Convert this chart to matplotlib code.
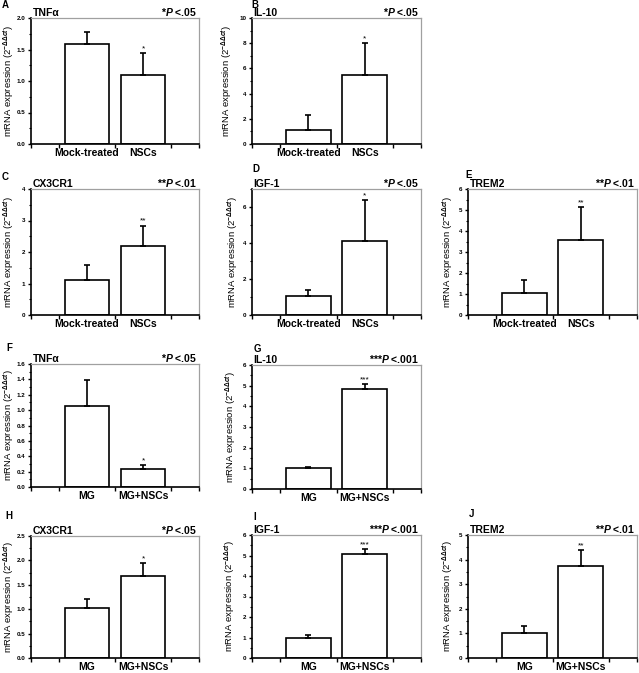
import numpy as np
import matplotlib
matplotlib.use("Agg")
import matplotlib.pyplot as plt

########
# DATA #
########

groups_in_vivo = ["Mock-treated", "NSCs"]
groups_in_vitro = ["MG", "MG+NSCs"]

# means and upper error (SD)
a_means, a_errs = [1.58, 1.10], [0.20, 0.35]
b_means, b_errs = [1.11, 5.46], [1.22, 2.58]
c_means, c_errs = [1.10, 2.19], [0.50, 0.65]
d_means, d_errs = [1.05, 4.09], [0.35, 2.32]
e_means, e_errs = [1.06, 3.56], [0.61, 1.56]
f_means, f_errs = [1.05, 0.23], [0.34, 0.06]
g_means, g_errs = [1.00, 4.84], [0.08, 0.22]
h_means, h_errs = [1.02, 1.68], [0.19, 0.26]
i_means, i_errs = [1.00, 5.06], [0.13, 0.24]
j_means, j_errs = [1.02, 3.74], [0.30, 0.65]

letters = ["A", "B", "C", "D", "E", "F", "G", "H", "I", "J"]
genes = ["TNFα", "IL-10", "CX3CR1", "IGF-1", "TREM2",
         "TNFα", "IL-10", "CX3CR1", "IGF-1", "TREM2"]
stars = ["*", "*", "**", "*", "**", "*", "***", "*", "***", "**"]
pvals = [".05", ".05", ".01", ".05", ".01", ".05", ".001", ".05", ".001", ".01"]
ymaxes = [2.0, 10, 4, 7, 6, 1.6, 6, 2.5, 6, 5]
ysteps = [0.5, 2, 1, 2, 1, 0.2, 1, 0.5, 1, 1]

all_means = [a_means, b_means, c_means, d_means, e_means,
             f_means, g_means, h_means, i_means, j_means]
all_errs = [a_errs, b_errs, c_errs, d_errs, e_errs,
            f_errs, g_errs, h_errs, i_errs, j_errs]

##########
# LAYOUT #
##########

W, H = 639, 673
# axes boxes in pixels: left, right, top, bottom
boxes = [(31, 199, 18, 144), (252, 421, 18, 144),
         (31, 199, 189, 315), (252, 421, 189, 315), (468, 637, 189, 315),
         (31, 199, 364, 487), (252, 421, 365, 489),
         (31, 199, 536, 658), (252, 421, 535, 658), (468, 637, 535, 658)]
# panel letter centres in pixels
letter_pos = [(5, 5), (255, 5), (5, 177), (256, 169), (469, 175),
              (9, 348), (257, 349), (9, 516), (255, 517), (472, 514)]
ylabel_gap = [15, 18, 15, 12, 13, 15, 14, 15, 15, 13]

plt.rcParams["font.family"] = "Liberation Sans"
plt.rcParams["font.weight"] = "bold"
plt.rcParams["mathtext.fontset"] = "custom"
plt.rcParams["mathtext.rm"] = "Liberation Sans"
plt.rcParams["mathtext.it"] = "Liberation Sans:italic"
plt.rcParams["mathtext.bf"] = "Liberation Sans:bold"
plt.rcParams["mathtext.bfit"] = "Liberation Sans:italic:bold"

fig = plt.figure(figsize=(W / 100, H / 100), dpi=100)

for k in range(10):
    l, r, t, b = boxes[k]
    ax = fig.add_axes([l / W, 1 - b / H, (r - l) / W, (b - t) / H])
    x = np.array([1, 2])
    ax.bar(x, all_means[k], width=0.8, color="white", edgecolor="black",
           linewidth=1.2, zorder=2)
    ax.errorbar(x, all_means[k], yerr=[np.zeros(2), all_errs[k]], fmt="none",
                ecolor="black", elinewidth=1.2, capsize=2.2, capthick=1.2, zorder=3)
    tops = np.array(all_means[k]) + np.array(all_errs[k])
    ax.annotate(stars[k], (2, tops[1]), xytext=(0, 0.5), textcoords="offset points",
                ha="center", va="bottom", fontsize=6, fontweight="normal")

    ax.set_xlim(0, 3)
    ax.set_ylim(0, ymaxes[k])
    ax.set_yticks(np.arange(0, ymaxes[k] + 1e-9, ysteps[k]))
    if k == 5:
        ax.set_yticklabels(["%.1f" % v for v in np.arange(0, 1.61, 0.2)])
    elif ysteps[k] == 0.5:
        ax.set_yticklabels(["%.1f" % v for v in np.arange(0, ymaxes[k] + 1e-9, 0.5)])
    ax.set_yticks(np.arange(0, ymaxes[k] + 1e-9, ysteps[k] / 2), minor=True)
    ax.tick_params(axis="y", which="major", direction="out", length=2.5, width=1,
                   labelsize=4.5, pad=1.5)
    ax.tick_params(axis="y", which="minor", direction="out", length=1.5, width=0.8)

    ax.set_xticks([1, 2])
    ax.set_xticklabels(groups_in_vivo if k < 5 else groups_in_vitro, fontsize=7.5)
    ax.set_xticks([0, 0.5, 1.5, 2.5, 3], minor=True)
    ax.tick_params(axis="x", which="major", length=0, pad=3)
    ax.tick_params(axis="x", which="minor", direction="out", length=3, width=1)

    for side in ["left", "bottom"]:
        ax.spines[side].set_linewidth(1.2)
    for side in ["top", "right"]:
        ax.spines[side].set_color("#a0a0a0")
        ax.spines[side].set_linewidth(0.9)

    ax.set_ylabel(r"mRNA expression (2$^{-\Delta\Delta \mathit{ct}}$)", fontsize=6.8)
    ax.yaxis.set_label_coords(-ylabel_gap[k] / (r - l), 0.5)

    ty = 1 + 2 / (b - t)
    ax.text(0.01, ty, genes[k], transform=ax.transAxes, ha="left", va="baseline",
            fontsize=7.5)
    ax.text(0.99, ty, stars[k] + r"$\mathbfit{P}$ <" + pvals[k],
            transform=ax.transAxes, ha="right", va="baseline", fontsize=7.5)

    lx, ly = letter_pos[k]
    fig.text(lx / W, 1 - ly / H, letters[k], ha="center", va="center", fontsize=7)

fig.savefig("out.png", dpi=100)
